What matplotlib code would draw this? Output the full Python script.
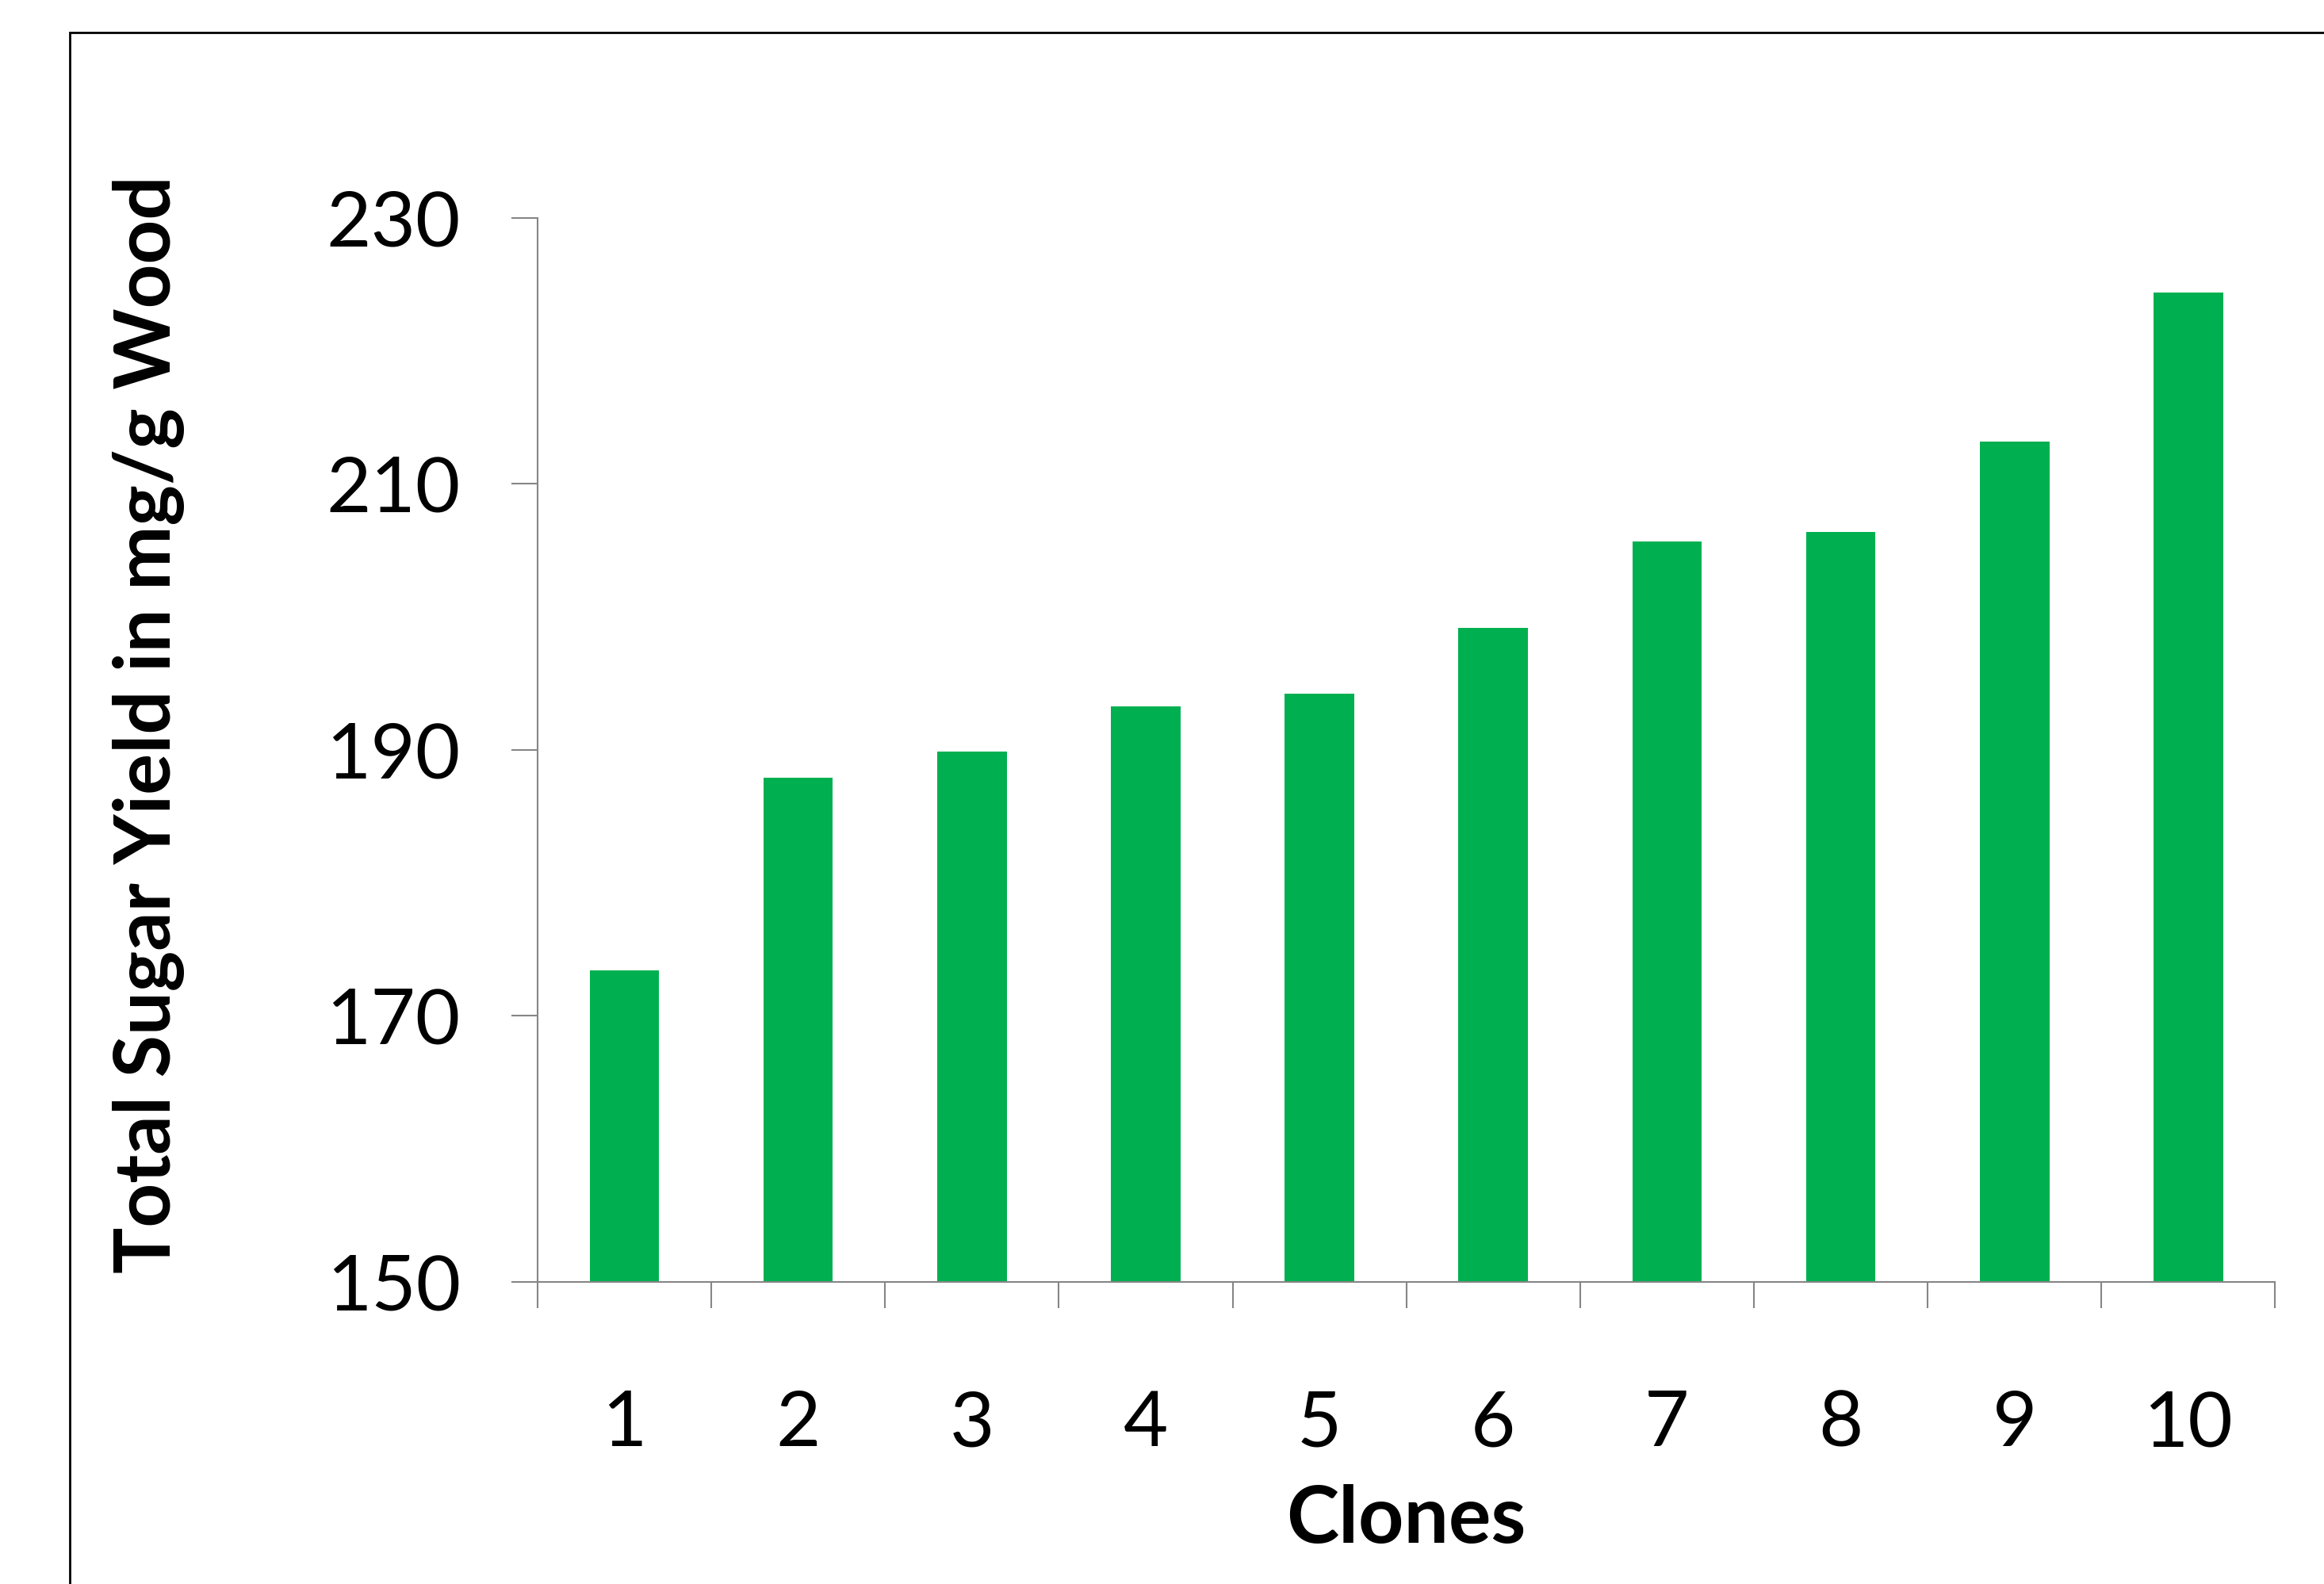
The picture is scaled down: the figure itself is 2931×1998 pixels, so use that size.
import matplotlib.pyplot as plt
from matplotlib.patches import Rectangle

plt.rcParams['font.family'] = ['Lato', 'DejaVu Sans']

# data
clones = ['1', '2', '3', '4', '5', '6', '7', '8', '9', '10']
sugar_yield = [173.4, 187.9, 189.9, 193.3, 194.2, 199.2, 205.7, 206.4, 213.2, 224.4]
y_ticks = [150, 170, 190, 210, 230]

fig = plt.figure(figsize=(14.655, 9.99), dpi=200)
ax = fig.add_axes([0.2313, 0.1907, 0.7477, 0.6717])

x = range(len(clones))
ax.bar(x, sugar_yield, width=0.4, color='#00B050', zorder=2)

ax.set_ylim(150, 230)
ax.set_xlim(-0.5, len(clones) - 0.5)
ax.set_yticks(y_ticks)
ax.set_xticks(list(x))
ax.set_xticklabels(clones)
# category boundaries carry the tick marks, labels sit in the middle
ax.set_xticks([i - 0.5 for i in range(len(clones) + 1)], minor=True)
ax.tick_params(axis='x', which='major', length=0, pad=49, labelsize=35)
ax.tick_params(axis='x', which='minor', length=12, width=0.75, color='#868686')
ax.tick_params(axis='y', length=12, width=0.75, color='#868686', pad=23, labelsize=35)

for side in ['top', 'right']:
    ax.spines[side].set_visible(False)
for side in ['left', 'bottom']:
    ax.spines[side].set_color('#868686')
    ax.spines[side].set_linewidth(0.75)

ax.set_xlabel('Clones', fontsize=36, fontweight='bold', labelpad=11)
ax.set_ylabel('Total Sugar Yield in mg/g Wood', fontsize=35, fontweight='bold')
ax.yaxis.set_label_coords(-0.203, 0.524)

# outer chart border, clipped at the right and bottom edges
fig.patches.append(Rectangle((0.030, -0.05), 1.05, 0.9795 + 0.05, transform=fig.transFigure,
                             fill=False, edgecolor='black', linewidth=1.0))

fig.savefig('out.png', dpi=200)
